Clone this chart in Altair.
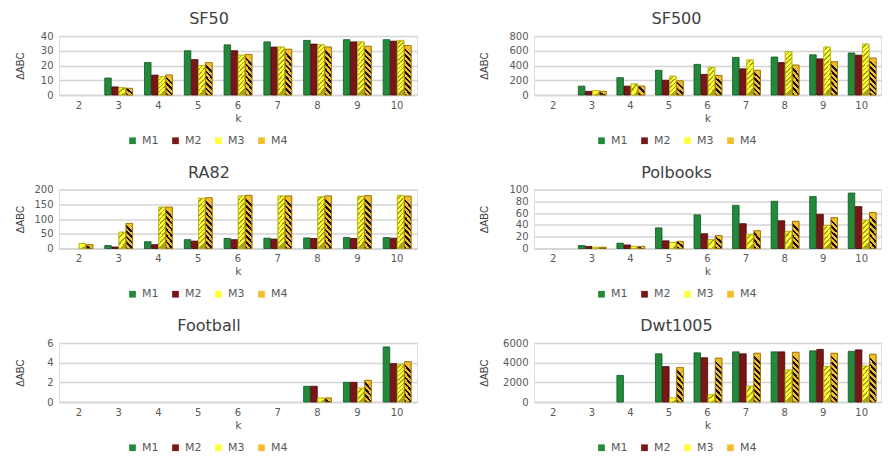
import altair as alt
import pandas as pd

K = [2, 3, 4, 5, 6, 7, 8, 9, 10]
SERIES = ["M1", "M2", "M3", "M4"]

SF50_M1 = [0, 11.5, 22, 30, 34, 36, 37, 37.5, 37.5]
SF50_M2 = [0, 5.5, 13.5, 24, 30, 32.5, 34.5, 36, 36.5]
SF50_M3 = [0, 5, 12.5, 20, 27, 32.5, 34, 36, 37]
SF50_M4 = [0, 4.5, 13.5, 22, 27.5, 31, 32.5, 33, 33.5]

SF500_M1 = [0, 120, 235, 335, 415, 510, 515, 545, 570]
SF500_M2 = [0, 50, 120, 200, 280, 355, 440, 490, 540]
SF500_M3 = [0, 60, 150, 255, 375, 475, 585, 650, 690]
SF500_M4 = [0, 50, 120, 190, 265, 335, 405, 450, 500]

RA82_M1 = [0, 10, 23, 30, 34, 35, 36, 37, 37]
RA82_M2 = [0, 5, 13, 25, 30, 32, 34, 34, 35]
RA82_M3 = [17, 55, 140, 170, 178, 178, 175, 177, 180]
RA82_M4 = [13, 85, 140, 172, 180, 178, 178, 179, 177]

POL_M1 = [0, 5, 9, 35, 57, 73, 80, 88, 94]
POL_M2 = [0, 3.5, 6, 13, 25, 42, 47, 58, 71]
POL_M3 = [0, 2, 3.5, 10, 15, 24, 29, 39, 48]
POL_M4 = [0, 2, 3.5, 12, 22, 30, 46, 52, 61]

FOOT_M1 = [0, 0, 0, 0, 0, 0, 1.6, 2.0, 5.6]
FOOT_M2 = [0, 0, 0, 0, 0, 0, 1.6, 2.0, 3.9]
FOOT_M3 = [0, 0, 0, 0, 0, 0, 0.4, 1.4, 3.8]
FOOT_M4 = [0, 0, 0, 0, 0, 0, 0.4, 2.2, 4.1]

DWT_M1 = [0, 0, 2700, 4900, 5000, 5100, 5100, 5200, 5150]
DWT_M2 = [0, 0, 0, 3600, 4500, 4900, 5100, 5350, 5300]
DWT_M3 = [0, 0, 0, 400, 750, 1600, 3250, 3600, 3650]
DWT_M4 = [0, 0, 0, 3500, 4450, 4950, 5050, 4950, 4850]

TITLES = ["SF50", "SF500", "RA82", "Polbooks", "Football", "Dwt1005"]
YMAX = [40, 800, 200, 100, 6, 6000]
YSTEP = [10, 200, 50, 20, 2, 2000]
VALUES = [
    [SF50_M1, SF50_M2, SF50_M3, SF50_M4],
    [SF500_M1, SF500_M2, SF500_M3, SF500_M4],
    [RA82_M1, RA82_M2, RA82_M3, RA82_M4],
    [POL_M1, POL_M2, POL_M3, POL_M4],
    [FOOT_M1, FOOT_M2, FOOT_M3, FOOT_M4],
    [DWT_M1, DWT_M2, DWT_M3, DWT_M4],
]

FILLS = ["#238a3c", "#7a1616", "#ffff3c", "#f3be2a"]
STROKES = ["#0f5522", "#420808", "#b5ae14", "#9a7208"]
H = 59
FONT = "DejaVu Sans"
TXT = "#595959"


def stripes(base, dark, n, frac):
    stops = []
    for i in range(n):
        a = i / n
        b = (i + 1 - frac) / n
        c = (i + 1) / n
        stops += [
            alt.GradientStop(color=base, offset=a),
            alt.GradientStop(color=base, offset=b),
            alt.GradientStop(color=dark, offset=b),
            alt.GradientStop(color=dark, offset=c),
        ]
    return stops


def panel(idx, width, title_dx, title_x, leg_x):
    rows = []
    for s, vals in zip(SERIES, VALUES[idx]):
        for k, v in zip(K, vals):
            if v > 0:
                rows.append({"k": k, "s": s, "v": v})
    df = pd.DataFrame(rows)
    ymax = YMAX[idx]
    ticks = list(range(0, ymax + 1, YSTEP[idx]))
    x = alt.X("k:O", scale=alt.Scale(domain=K, paddingInner=0.3, paddingOuter=0.15),
              axis=alt.Axis(title="k", labelAngle=0, labelFont=FONT, labelFontSize=10,
                            labelColor=TXT, titleFont=FONT, titleFontSize=11,
                            titleFontWeight="normal", titleColor=TXT, ticks=False,
                            domainColor="#d4d4d4", domainWidth=1.3, labelPadding=5,
                            titlePadding=2))
    xo = alt.XOffset("s:N", scale=alt.Scale(domain=SERIES, paddingInner=0.08))
    y = alt.Y("v:Q", scale=alt.Scale(domain=[0, ymax], nice=False),
              axis=alt.Axis(values=ticks, title="ΔABC", ticks=False, domain=False,
                            format="d",
                            labelFont=FONT, labelFontSize=10, labelColor=TXT,
                            labelPadding=6, gridColor="#d4d4d4", gridWidth=1.3,
                            titleFont="Liberation Sans", titleFontSize=10,
                            titleFontWeight="normal", titleColor="#404040",
                            titleAngle=270, titleX=title_x, titleY=H / 2,
                            titleAlign="center", titleBaseline="middle"))
    base = alt.Chart(df).mark_bar(strokeWidth=0.8).encode(
        x=x, xOffset=xo, y=y,
        color=alt.Color("s:N", scale=alt.Scale(domain=SERIES, range=FILLS),
                        legend=alt.Legend(title=None, orient="none", legendX=leg_x,
                                          legendY=99, direction="horizontal",
                                          symbolType="square", symbolSize=45,
                                          symbolStrokeWidth=0, labelFont=FONT,
                                          labelFontSize=11, labelColor=TXT,
                                          columnPadding=11, labelOffset=4)),
        stroke=alt.Stroke("s:N", scale=alt.Scale(domain=SERIES, range=STROKES),
                          legend=None),
    )
    layers = [base]
    w = width / 9 * 0.7 / 4
    edges = list(range(0, 66, 6))
    for si, (sname, dark, frac, period, direction) in enumerate(
            [("M3", "#a7a21c", 0.35, 4.5, "/"), ("M4", "#111111", 0.45, 5.5, "\\")]):
        sub = df[df.s == sname]
        for lo, hi in zip(edges[:-1], edges[1:]):
            vlo, vhi = lo / H * ymax, hi / H * ymax
            if not ((sub.v >= vlo) & (sub.v < vhi)).any():
                continue
            mid = max((lo + hi) / 2, 3)
            n = max(1, round(mid / period))
            a = min(w / mid, 1.0)
            if direction == "\\":
                grad = alt.LinearGradient(gradient="linear", x1=a, y1=0, x2=0, y2=1,
                                          stops=stripes(FILLS[2 + si], dark, n, frac))
            else:
                grad = alt.LinearGradient(gradient="linear", x1=0, y1=0, x2=a, y2=1,
                                          stops=stripes(FILLS[2 + si], dark, n, frac))
            ov = alt.Chart(df).transform_filter(
                f"datum.s == '{sname}' && datum.v >= {vlo} && datum.v < {vhi}"
            ).mark_bar(fill=grad, stroke=STROKES[2 + si], strokeWidth=0.8).encode(
                x=x, xOffset=xo, y=y)
            layers.append(ov)
    return alt.layer(*layers).properties(
        width=width, height=H,
        title=alt.Title(TITLES[idx], font=FONT, fontSize=16, fontWeight="normal",
                        color="#404040", anchor="middle", dx=title_dx, offset=4),
    )


rows = []
for r in range(3):
    left = panel(2 * r, 358, -29, -39, 68)
    right = panel(2 * r + 1, 347, -31, -50, 62)
    rows.append(alt.hconcat(left, right, spacing=117, bounds="flush")
                .resolve_legend(color="independent", stroke="independent")
                .resolve_scale(color="independent", stroke="independent"))

chart = alt.vconcat(*rows, spacing=153.5, bounds="flush").resolve_legend(
    color="independent", stroke="independent").resolve_scale(
    color="independent", stroke="independent").properties(
    padding={"left": 14, "top": 10, "right": 5, "bottom": 0}
).configure_view(stroke=None).configure(background="white")

chart.save("out.html", embed_options={"renderer": "svg", "actions": False})
